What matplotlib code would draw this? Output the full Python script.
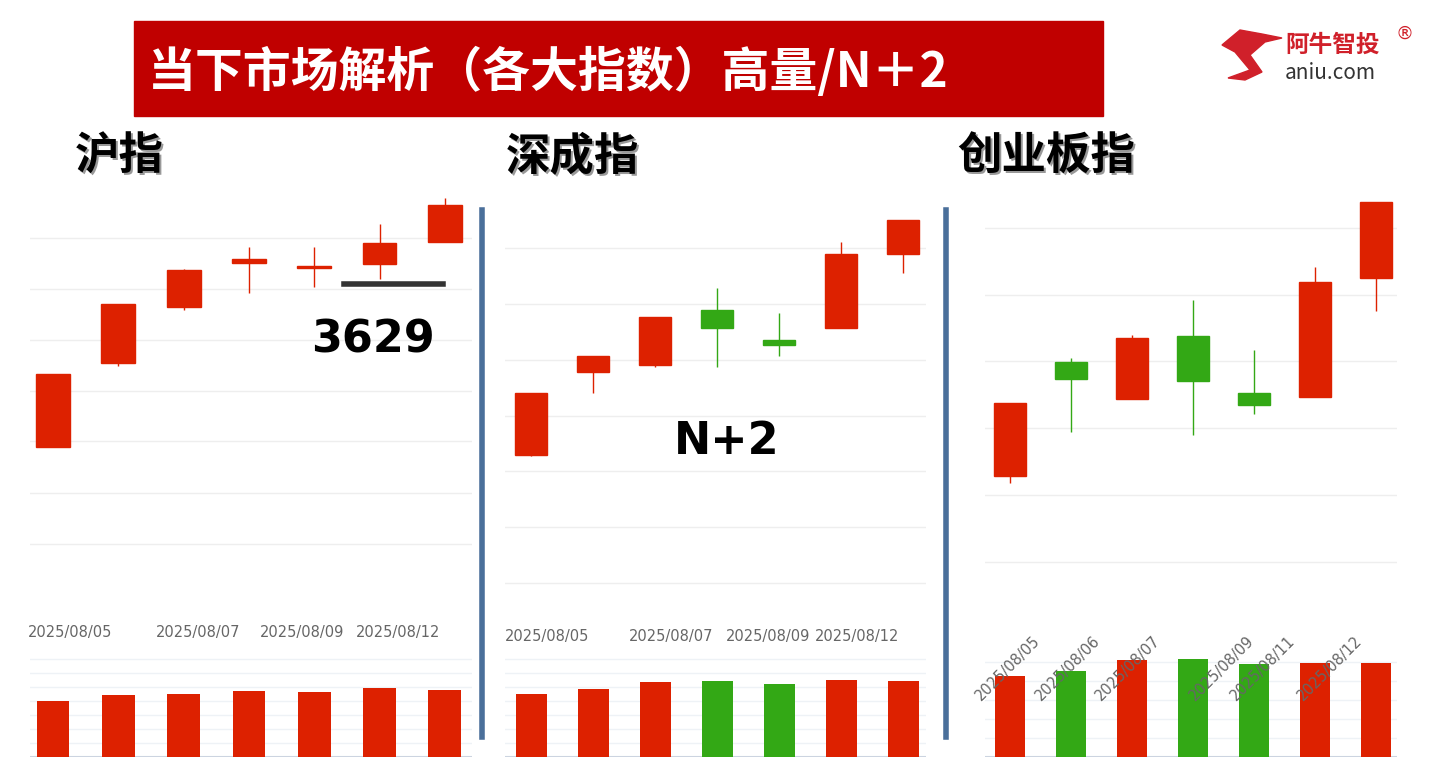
import matplotlib
matplotlib.use("Agg")
import matplotlib.pyplot as plt
from matplotlib.patches import Rectangle

plt.rcParams["font.family"] = ["Noto Sans CJK SC", "DejaVu Sans"]
W, H = 1441, 773
fig = plt.figure(figsize=(W/100, H/100), dpi=100)

# Data (values in chart units; higher = higher price)
sh_open  = [326, 410, 466, 510, 505, 509, 531]
sh_close = [399, 469, 503, 514, 505, 530, 568]
sh_high  = [399, 469, 504, 526, 526, 549, 575]
sh_low   = [326, 407, 463, 480, 486, 494, 531]
sh_vol   = [56, 62, 63, 66, 65, 69, 67]
sh_dates = ["2025/08/05", "2025/08/07", "2025/08/09", "2025/08/12"]

sz_open  = [318, 401, 408, 463, 433, 445, 519]
sz_close = [380, 417, 456, 445, 428, 519, 553]
sz_high  = [380, 417, 456, 485, 460, 531, 553]
sz_low   = [317, 380, 406, 406, 417, 445, 500]
sz_vol   = [63, 68, 75, 76, 73, 77, 76]
sz_dates = ["2025/08/05", "2025/08/07", "2025/08/09", "2025/08/12"]

cy_open  = [297, 411, 374, 437, 380, 376, 495]
cy_close = [370, 394, 435, 392, 368, 491, 571]
cy_high  = [370, 415, 438, 473, 423, 506, 571]
cy_low   = [290, 341, 374, 338, 359, 376, 462]
cy_vol   = [81, 86, 97, 98, 93, 94, 94]
cy_dates = ["2025/08/05", "2025/08/06", "2025/08/07", "2025/08/09", "2025/08/11", "2025/08/12"]

RED, GREEN = "#dd2100", "#33a815"

def ax_px(x0, y0, x1, y1):
    return fig.add_axes([x0/W, 1-y1/H, (x1-x0)/W, (y1-y0)/H])

def panel(x0, x1, c0, s, o, c, hi, lo, vol, vcol, grid_y, vol_grid):
    xl = ((x0-c0)/s, (x1-c0)/s)
    ax = ax_px(x0, 195, x1, 605)
    ax.set_xlim(*xl); ax.set_ylim(773-605, 773-195)
    for g in grid_y:
        ax.axhline(773-g, color="#eeeeee", lw=1, zorder=0)
    for i in range(len(o)):
        col = RED if c[i] >= o[i] else GREEN
        ax.vlines(i, lo[i], hi[i], color=col, lw=1)
        b, t = min(o[i], c[i]), max(o[i], c[i])
        ax.add_patch(Rectangle((i-0.26, b), 0.52, max(t-b, 2), color=col, zorder=3))
    ax.axis("off")
    vax = ax_px(x0, 645, x1, 757)
    vax.set_xlim(*xl); vax.set_ylim(0, 112)
    for g in vol_grid:
        vax.axhline(g, color="#eef2f6", lw=1, zorder=0)
    vax.axhline(0.5, color="#ccd4e0", lw=1.5)
    vax.bar(range(len(vol)), vol, width=0.5, color=vcol, zorder=2)
    vax.axis("off")

panel(30, 472, 53, 65.3, sh_open, sh_close, sh_high, sh_low, sh_vol, [RED]*7,
      [238, 289, 340, 391, 441, 493, 544], [14, 28, 42, 56, 70, 84, 98])
panel(505, 926, 531, 62, sz_open, sz_close, sz_high, sz_low, sz_vol,
      [RED, RED, RED, GREEN, GREEN, RED, RED],
      [248, 304, 360, 416, 471, 527, 583], [14, 28, 42, 56, 70, 84, 98])
panel(985, 1397, 1010, 61, cy_open, cy_close, cy_high, cy_low, cy_vol,
      [RED, GREEN, RED, GREEN, GREEN, RED, RED],
      [228, 295, 361, 428, 495, 562, 628], [19, 38, 57, 76, 95])

# overlay in pixel coords
bg = fig.add_axes([0, 0, 1, 1], zorder=10)
bg.set_xlim(0, W); bg.set_ylim(H, 0); bg.axis("off")
bg.add_patch(Rectangle((134, 21), 969, 95, color="#c00000"))
bg.text(148, 72, "当下市场解析（各大指数）高量/N＋2", color="white", fontsize=34.5,
        fontweight="bold", va="center")
for x, t in [(75, "沪指"), (506, "深成指"), (957, "创业板指")]:
    bg.text(x+2, 159, t, fontsize=32, fontweight="bold", color="#999999", va="center")
    bg.text(x, 157, t, fontsize=32, fontweight="bold", color="black", va="center")
bg.plot([482, 482], [210, 737], color="#4a6f9a", lw=4)
bg.plot([946, 946], [210, 737], color="#4a6f9a", lw=4)
bg.plot([344, 443], [284, 284], color="#333333", lw=4)
bg.text(373, 340, "3629", fontsize=32, fontweight="bold", ha="center", va="center",
        family="DejaVu Sans")
bg.text(727, 441, "N+2", fontsize=32, fontweight="bold", ha="center", va="center",
        family="DejaVu Sans")
for x, t in zip([70, 198, 302, 398], sh_dates):
    bg.text(x, 633, t, fontsize=10.5, color="#666666", ha="center", va="center", family="DejaVu Sans")
for x, t in zip([547, 671, 768, 857], sz_dates):
    bg.text(x, 637, t, fontsize=10.5, color="#666666", ha="center", va="center", family="DejaVu Sans")
for x, t in zip([1008, 1068, 1128, 1222, 1263, 1330], cy_dates):
    bg.text(x, 668, t, fontsize=10.5, color="#666666", ha="center", va="center", rotation=45,
            family="DejaVu Sans")
# logo
bg.text(1285, 45, "阿牛智投", fontsize=17, fontweight="bold", color="#d0202a", va="center")
bg.text(1395, 34, "®", fontsize=13, color="#d0202a", va="center", family="DejaVu Sans")
bg.text(1285, 73, "aniu.com", fontsize=15, color="#333333", va="center")
bg.fill([1222, 1240, 1262, 1282, 1265, 1250, 1262, 1245, 1228, 1250, 1235],
        [45, 30, 34, 38, 42, 55, 72, 80, 78, 70, 52], color="#d0202a")
fig.savefig("out.png", dpi=100)
